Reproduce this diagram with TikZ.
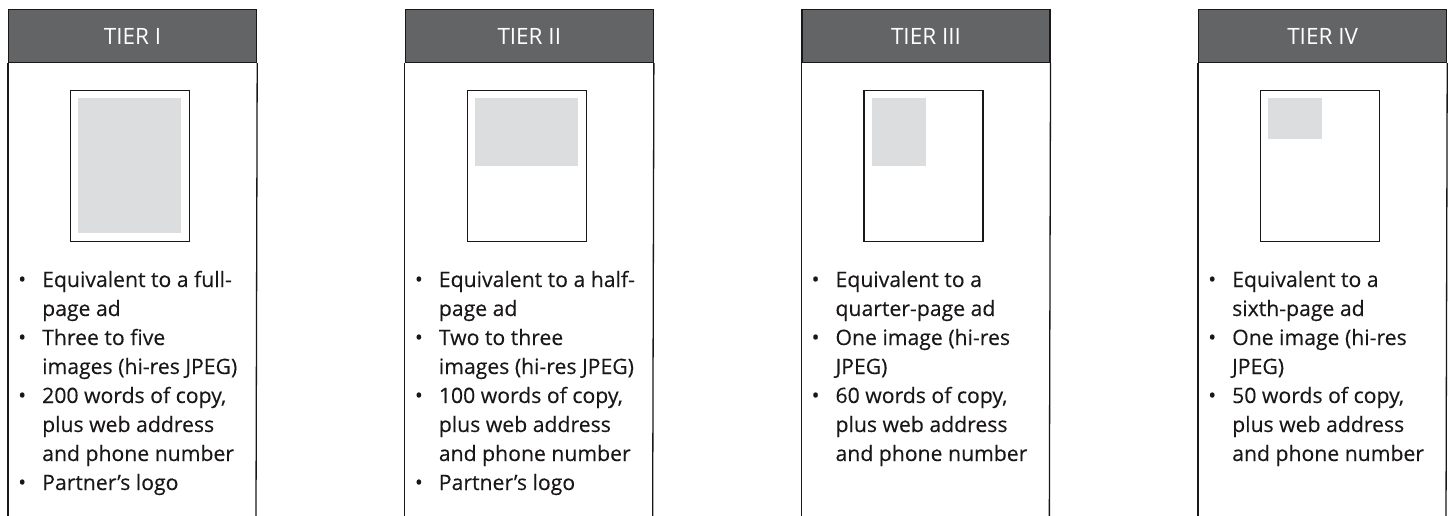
\documentclass[tikz,border=0pt]{standalone}
\usepackage{fontspec}
\setmainfont{Open Sans}
\newfontfamily\listfont[FakeBold=0.25]{Open Sans}
\definecolor{headgray}{HTML}{636466}
\definecolor{adgray}{HTML}{DCDDDE}
\definecolor{inkblack}{HTML}{1A1718}
\newcommand{\bul}{\makebox[20pt]{\raisebox{0.3pt}{\fontsize{21}{21}\selectfont •}}}
\tikzset{
  tierhead/.style={draw=inkblack, line width=1.2pt, fill=headgray, minimum width=248pt,
    minimum height=53pt, inner sep=0pt, text=white, font=\fontsize{22.5}{22.5}\selectfont},
  adpage/.style={draw=inkblack, line width=1.3pt, fill=white, minimum width=119pt,
    minimum height=151pt, inner sep=0pt},
  adfill/.style={fill=adgray, inner sep=0pt},
  tierlist/.style={anchor=base west, inner sep=0pt, text=inkblack,
    font=\listfont\fontsize{21.2}{29}\selectfont},
  colside/.style={draw=inkblack, line width=1.3pt},
}
\begin{document}
\begin{tikzpicture}[x=1pt, y=1pt]
    \useasboundingbox (0,0) rectangle (1450,-516);

    % headers, column sides and page thumbnails
    \foreach \i/\tier/\gw/\gh in {1/I/103/135, 2/II/103/68, 3/III/54/68, 4/IV/54/41} {
        \pgfmathsetmacro{\xl}{8+396.67*(\i-1)}
        \node[tierhead, anchor=north west] (head\i) at (\xl,-9) {TIER \tier};
        \coordinate (footl\i) at (\xl,-516);
        \coordinate (footr\i) at (\xl+248,-516);
        \draw[colside] (head\i.south west) -- (footl\i);
        \draw[colside] (head\i.south east) -- (footr\i);
        \node[adpage, anchor=north west] (page\i) at (\xl+62,-90) {};
        \node[adfill, anchor=north west, minimum width=\gw pt, minimum height=\gh pt]
            (ad\i) at ([shift={(8,-8)}]page\i.north west) {};
    }

    % bullet lists
    \node[tierlist] (list1) at (12,-287) {\begin{tabular}[t]{@{}l@{\hspace{10pt}}l@{}}
        \bul & Equivalent to a full-\\
             & page ad\\
        \bul & Three to five\\
             & images (hi-res JPEG)\\
        \bul & 200 words of copy,\\
             & plus web address\\
             & and phone number\\
        \bul & Partner’s logo
    \end{tabular}};
    \node[tierlist] (list2) at (408.67,-287) {\begin{tabular}[t]{@{}l@{\hspace{10pt}}l@{}}
        \bul & Equivalent to a half-\\
             & page ad\\
        \bul & Two to three\\
             & images (hi-res JPEG)\\
        \bul & 100 words of copy,\\
             & plus web address\\
             & and phone number\\
        \bul & Partner’s logo
    \end{tabular}};
    \node[tierlist] (list3) at (805.33,-287) {\begin{tabular}[t]{@{}l@{\hspace{10pt}}l@{}}
        \bul & Equivalent to a\\
             & quarter-page ad\\
        \bul & One image (hi-res\\
             & JPEG)\\
        \bul & 60 words of copy,\\
             & plus web address\\
             & and phone number
    \end{tabular}};
    \node[tierlist] (list4) at (1202,-287) {\begin{tabular}[t]{@{}l@{\hspace{10pt}}l@{}}
        \bul & Equivalent to a\\
             & sixth-page ad\\
        \bul & One image (hi-res\\
             & JPEG)\\
        \bul & 50 words of copy,\\
             & plus web address\\
             & and phone number
    \end{tabular}};
\end{tikzpicture}
\end{document}
